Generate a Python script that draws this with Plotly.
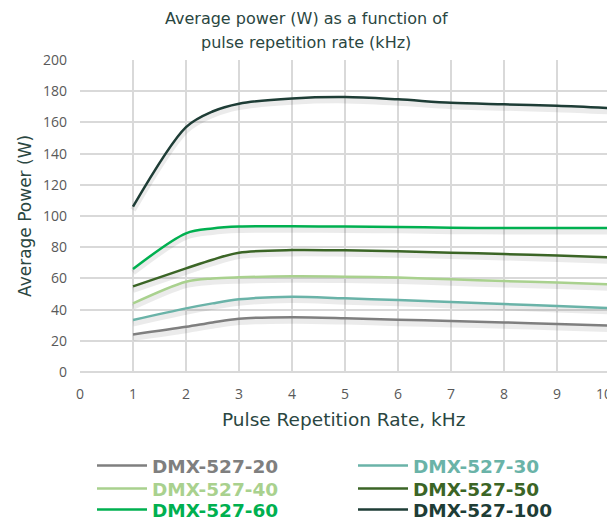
import plotly.graph_objects as go

freq_khz = [1, 2, 2.5, 3, 4, 5, 6, 7, 8, 9, 10]

dmx_20 = [24.1, 29.0, 31.8, 34.2, 35.1, 34.5, 33.5, 32.7, 31.8, 30.8, 29.7]
dmx_30 = [33.3, 40.8, 44.0, 46.6, 48.3, 47.2, 46.2, 44.9, 43.6, 42.3, 41.0]
dmx_40 = [44.0, 57.9, 60.0, 60.7, 61.3, 61.1, 60.5, 59.4, 58.3, 57.3, 56.2]
dmx_50 = [54.9, 66.4, 72.0, 76.5, 78.2, 78.0, 77.4, 76.5, 75.6, 74.6, 73.5]
dmx_60 = [66.0, 88.9, 92.0, 93.2, 93.4, 93.2, 93.0, 92.5, 92.3, 92.3, 92.3]
dmx_100 = [106.0, 157.0, 167.0, 172.0, 175.4, 176.3, 174.8, 172.6, 171.6, 170.7, 169.2]

series_names = ["DMX-527-20", "DMX-527-30", "DMX-527-40", "DMX-527-50", "DMX-527-60", "DMX-527-100"]
series_values = [dmx_20, dmx_30, dmx_40, dmx_50, dmx_60, dmx_100]
series_colors = ["#7f7f7f", "#6ab3a8", "#a9d18e", "#3b6526", "#00b050", "#1e3d36"]

x_ticks = list(range(0, 11))
y_ticks = list(range(0, 201, 20))

TITLE_COLOR = "#2a4641"
TICK_COLOR = "#595959"

# the page has an 8px body margin; design in page pixels, convert to figure
OFF = 8
W, H = 615 - OFF, 520 - OFF
PL, PR, PT, PB = 80, 610, 60, 372          # plot area in page pixels
L, R, T, B = PL - OFF, (615 - PR), PT - OFF, H - (PB - OFF)
PW, PH = W - L - R, H - T - B

def px(xp):
    return (xp - OFF - L) / PW

def py(yp):
    return (H - B - (yp - OFF)) / PH

fig = go.Figure()

# soft drop shadows
for vals in series_values:
    fig.add_trace(go.Scatter(
        x=freq_khz, y=[v - 2.2 for v in vals], mode="lines",
        line=dict(color="rgba(0,0,0,0.08)", width=6, shape="spline", smoothing=0.9),
        showlegend=False, hoverinfo="skip"))

# legend slots: (text-start x px, row-center y px) in page pixels
legend_slots = [(152, 466), (413, 466), (152, 489), (413, 489), (152, 510), (413, 510)]
legend_layouts = {}
for i, (name, vals, col) in enumerate(zip(series_names, series_values, series_colors)):
    lname = "legend" if i == 0 else f"legend{i + 1}"
    fig.add_trace(go.Scatter(
        x=freq_khz, y=vals, mode="lines", legend=lname,
        name=f"<b><span style='color:{col}'>{name}</span></b>",
        line=dict(color=col, width=2.5, shape="spline", smoothing=0.9)))
    tx, ty = legend_slots[i]
    legend_layouts[lname] = dict(
        orientation="v", x=px(tx - 60), xanchor="left", y=py(ty), yanchor="middle",
        font=dict(size=18.5, family="DejaVu Sans"), itemwidth=50,
        bgcolor="rgba(0,0,0,0)", borderwidth=0)

# last x tick label drawn as an annotation so it is not clipped at the page edge
x_ticktext = [str(t) for t in x_ticks[:-1]] + [""]
last_tick = x_ticks[-1]

fig.update_layout(
    width=W, height=H,
    margin=dict(l=L, r=R, t=T, b=B, autoexpand=False),
    paper_bgcolor="white", plot_bgcolor="white",
    font=dict(family="DejaVu Sans", color=TICK_COLOR),
    xaxis=dict(range=[0, 10], tickvals=x_ticks, ticktext=x_ticktext,
               showgrid=True, gridcolor="#d9d9d9", gridwidth=2,
               zeroline=False, showline=False, automargin=False,
               ticklabelstandoff=12,
               tickfont=dict(size=14, family="Open Sans", color=TICK_COLOR)),
    yaxis=dict(range=[0, 200], tickvals=y_ticks, ticktext=[str(t) for t in y_ticks],
               showgrid=True, gridcolor="#d9d9d9", gridwidth=2,
               zeroline=True, zerolinecolor="#d9d9d9", zerolinewidth=2, showline=False,
               automargin=False, ticklabelstandoff=12,
               tickfont=dict(size=14, family="Open Sans", color=TICK_COLOR)),
    annotations=[
        dict(text="Average power (W) as a function of", xref="paper", yref="paper",
             x=px(306), y=py(18), xanchor="center", yanchor="middle", showarrow=False,
             font=dict(size=16, color=TITLE_COLOR)),
        dict(text="pulse repetition rate (kHz)", xref="paper", yref="paper",
             x=px(306), y=py(43), xanchor="center", yanchor="middle", showarrow=False,
             font=dict(size=16, color=TITLE_COLOR)),
        dict(text="Pulse Repetition Rate, kHz", xref="paper", yref="paper",
             x=px(343), y=py(419), xanchor="center", yanchor="middle", showarrow=False,
             font=dict(size=18.5, color=TITLE_COLOR)),
        dict(text="Average Power (W)", xref="paper", yref="paper", textangle=-90,
             x=px(25), y=py(216), xanchor="center", yanchor="middle", showarrow=False,
             font=dict(size=17, color=TITLE_COLOR)),
        dict(text=str(last_tick), xref="x", yref="paper",
             x=last_tick, y=py(393), xanchor="right", yanchor="middle", xshift=4,
             showarrow=False, font=dict(size=14, family="Open Sans", color=TICK_COLOR)),
    ],
    **legend_layouts,
)

fig.write_html("out.html")
